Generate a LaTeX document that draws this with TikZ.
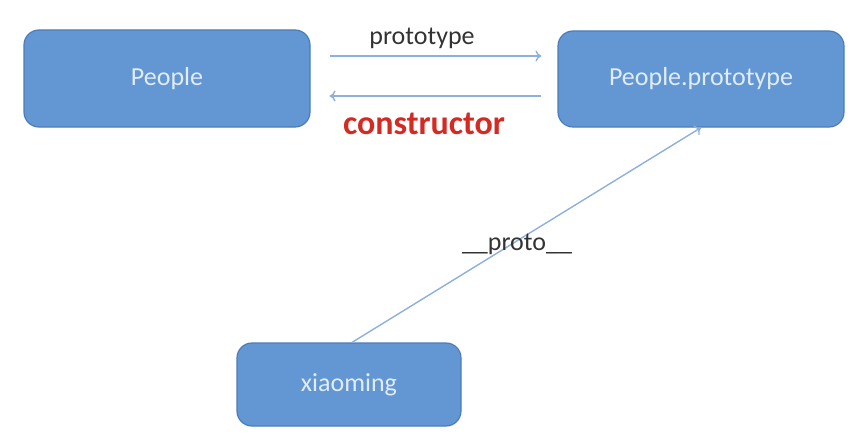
\documentclass[tikz,border=0pt]{standalone}
\usepackage{fontspec}
\setmainfont{Carlito}
\usetikzlibrary{arrows.meta}
\definecolor{boxblue}{HTML}{6297D3}
\definecolor{boxedge}{HTML}{4C7DB8}
\definecolor{boxtext}{HTML}{E2ECF8}
\definecolor{arrowblue}{HTML}{8DB0DC}
\definecolor{ctorred}{HTML}{D42A24}
\definecolor{labelgray}{HTML}{333333}
\tikzset{
  box/.style={rounded corners=15pt, fill=boxblue, draw=boxedge, line width=1.2pt,
    text=boxtext, font=\fontsize{26}{30}\selectfont, inner sep=0pt},
  arr/.style={draw=arrowblue, line width=1.4pt, -{To[length=6pt,width=11pt]}},
  lbl/.style={text=labelgray, font=\fontsize{26}{30}\selectfont, inner sep=0pt}
}
\begin{document}
\begin{tikzpicture}[x=1pt,y=-1pt]
\useasboundingbox (0,0) rectangle (860,444);
\node[box, minimum width=286pt, minimum height=97pt] (people) at (167,78.5) {People};
\node[box, minimum width=286pt, minimum height=96pt] (proto) at (701,79) {People.prototype};
\node[box, minimum width=224pt, minimum height=83pt] (xm) at (349,384.5) {xiaoming};
\draw[arr, shorten <=19pt, shorten >=16pt] ([yshift=22.5pt]people.east) -- ([yshift=23pt]proto.west);
\draw[arr, shorten <=16pt, shorten >=19pt] ([yshift=-17pt]proto.west) -- ([yshift=-17.5pt]people.east);
\draw[arr] ([xshift=3pt]xm.north) -- (proto.south);
\node[lbl] (lproto) at (422,38) {prototype};
\node[text=ctorred, font=\fontsize{34}{40}\selectfont\bfseries, inner sep=0pt] (lctor) at (424,124) {constructor};
\node[lbl] (lunder) at (517,244) {\_\_proto\_\_};
\end{tikzpicture}
\end{document}
